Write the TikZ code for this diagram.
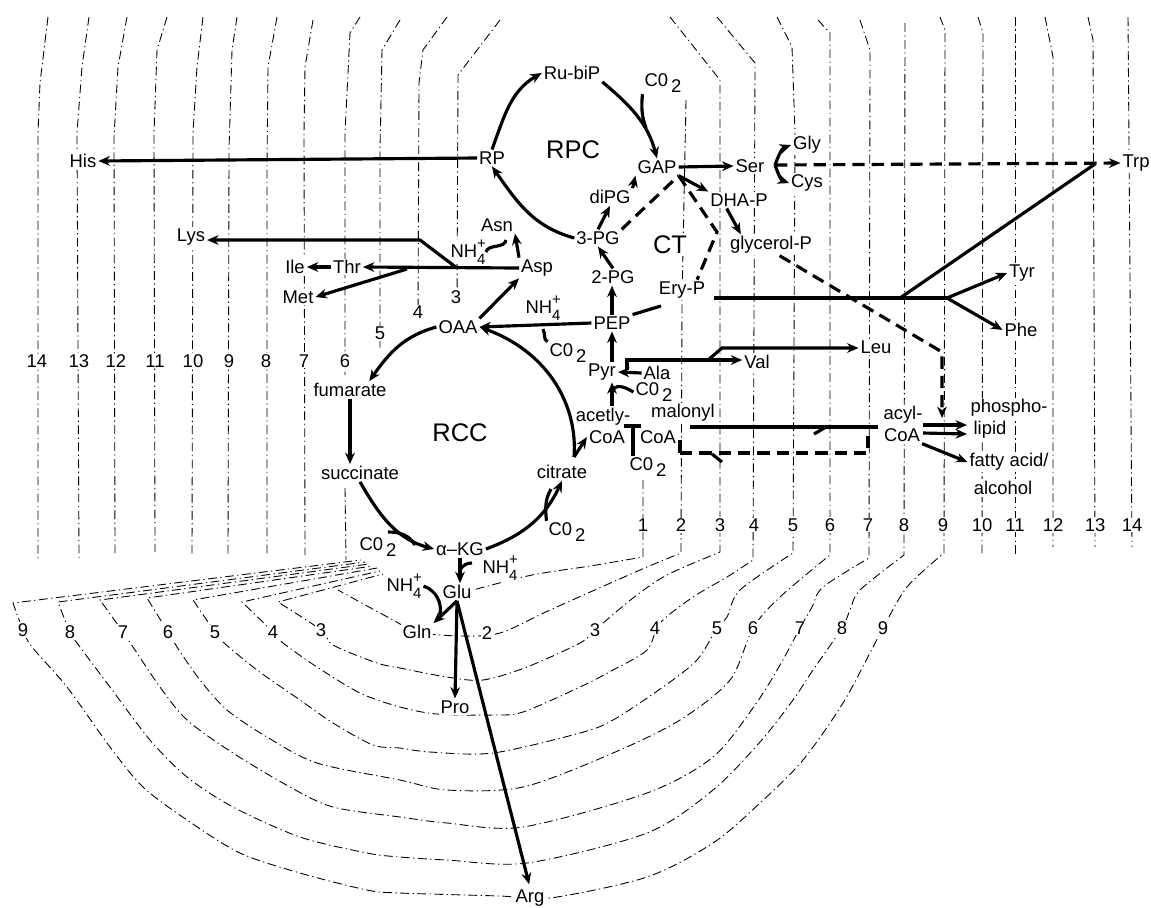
\documentclass[tikz,border=0pt]{standalone}
\usepackage{fontspec}
\setmainfont{Liberation Sans}
\usetikzlibrary{arrows.meta,calc}
\newcommand{\fs}{\fontsize{10.5}{12}\selectfont}
\newcommand{\fsmall}{\fontsize{8.5}{9}\selectfont}
\newcommand{\cotwo}{C0\,\raisebox{-0.55ex}{2}}
\newcommand{\nhf}{NH\makebox[0pt][l]{\raisebox{0.95ex}{\fsmall +}}\raisebox{-0.65ex}{\fsmall 4}}
\begin{document}
\begin{tikzpicture}[x=0.02cm,y=-0.02cm,
  contour/.style={line width=0.5pt, dash pattern=on 5pt off 2pt on 0.7pt off 2pt},
  thk/.style={line width=1.8pt},
  ar/.style={thk, -{Stealth[length=6.5pt,width=5.5pt]}},
  dsh/.style={thk, dash pattern=on 7pt off 4pt},
  t/.style={font=\fs, fill=white, inner sep=1pt},
  num/.style={font=\fs, fill=white, inner sep=0.6pt},
  big/.style={font=\fontsize{14.5}{16}\selectfont, fill=white, inner sep=1pt}]
\path[use as bounding box] (0,0) rectangle (1151,907);
\fill[white] (0,0) rectangle (1151,907);

% ---------------- contour lines: left verticals
\draw[contour] (48,17) -- (40,83) -- (38,133) -- (38,560);
\draw[contour] (89,17) -- (82,67) -- (77,133) -- (79,558);
\draw[contour] (127,17) -- (118,67) -- (114,137) -- (115,555);
\draw[contour] (167,17) -- (157,50) -- (154,133) -- (155,552);
\draw[contour] (203,17) -- (197,67) -- (193,133) -- (192,557);
\draw[contour] (237,17) -- (232,50) -- (229,150) -- (228,555);
\draw[contour] (277,17) -- (268,67) -- (267,167) -- (267,555);
\draw[contour] (313,20) -- (305,67) -- (304,133) -- (305,555);
\draw[contour] (360,17) -- (350,33) -- (345,133) -- (345,375);
\draw[contour] (345,488) -- (346,560);
\draw[contour] (400,20) -- (382,50) -- (380,150) -- (380,348);
\draw[contour] (447,17) -- (423,50) -- (419,83) -- (418,318);
\draw[contour] (500,20) -- (458,75) -- (457,300);

% ---------------- contour lines: right side and lower rings
\draw[contour] (643,480) -- (643,557) -- plot[smooth,tension=0.5] coordinates {(643,557)(590,566)(532,575)(473,590)};
\draw[contour] (686,100) -- (682,300) -- (681,553) -- plot[smooth,tension=0.5] coordinates {(681,553)(640,570)(550,610)(500,633)(460,636)(417,632)(393,620)(338,590)};
\draw[contour] (670,17) -- (720,80) -- (720,552) -- plot[smooth,tension=0.5] coordinates {(720,552)(667,575)(633,598)(595,630)(580,643)(527,667)(483,680)(447,677)(400,668)(377,663)(333,645)(321,630)(278,602)} -- (383,574);
\draw[contour] (717,17) -- (755,63) -- (753,560) -- plot[smooth,tension=0.5] coordinates {(753,560)(727,577)(693,597)(660,623)(647,650)(613,670)(580,687)(523,712)(493,715)(437,714)(400,707)(360,693)(317,667)(283,643)(273,632)(242,602)} -- (380,571);
\draw[contour] (777,17) -- (792,47) -- (795,133) -- (793,553) -- plot[smooth,tension=0.5] coordinates {(793,553)(740,590)(727,617)(717,628)(697,660)(663,687)(613,720)(580,733)(493,753)(430,752)(400,748)(373,745)(333,723)(300,700)(257,670)(223,642)(215,632)(193,600)} -- (377,568);
\draw[contour] (818,20) -- (830,33) -- (830,555) -- plot[smooth,tension=0.5] coordinates {(830,555)(780,597)(753,628)(730,680)(680,720)(613,753)(523,787)(447,790)(400,780)(317,763)(267,737)(227,710)(200,680)(177,647)(168,632)(147,598)} -- (373,566);
\draw[contour] (860,20) -- (870,50) -- (869,558) -- plot[smooth,tension=0.5] coordinates {(869,558)(823,587)(812,607)(800,628)(780,665)(755,705)(713,757)(647,793)(523,827)(447,823)(400,817)(333,807)(290,787)(233,753)(187,720)(160,687)(133,647)(123,632)(100,600)} -- (369,564);
\draw[contour] (905,23) -- (904,555) -- plot[smooth,tension=0.5] coordinates {(904,555)(860,590)(850,610)(842,628)(813,670)(793,700)(760,742)(713,790)(647,833)(527,863)(447,860)(400,857)(367,853)(300,837)(233,807)(187,777)(150,740)(110,687)(80,647)(70,632)(58,602)} -- (365,562);
\draw[contour] (940,17) -- (945,30) -- (944,553) -- plot[smooth,tension=0.5] coordinates {(944,553)(907,587)(883,628)(873,647)(843,703)(803,760)(760,803)(713,843)(647,877)(550,898)(500,896)(400,893)(367,890)(300,873)(240,853)(187,820)(143,787)(110,747)(67,687)(32,647)(23,630)(13,603)} -- (361,560);
\draw[contour] (978,17) -- (983,33) -- (982,555);
\draw[contour] (1015,17) -- (1015,555);
\draw[contour] (1045,17) -- (1053,57) -- (1053,547);
\draw[contour] (1088,17) -- (1093,40) -- (1095,547);
\draw[contour] (1128,17) -- (1132,547);

% ---------------- contour numbers
\foreach \n/\x in {14/37,13/79,12/116,11/155,10/193,9/229,8/266,7/304,6/345}
  \node[num] (ln\n) at (\x,361) {\n};
\node[num] (ln5) at (380,333) {5};
\node[num] (ln4) at (418,312) {4};
\node[num] (ln3) at (456,297) {3};
\foreach \n/\x in {1/643,2/681,3/720,4/754,5/793,6/830,7/868,8/904,9/943,10/982,11/1015,12/1053,13/1095,14/1132}
  \node[num] (rn\n) at (\x,525) {\n};
\foreach \n/\x/\y in {2/487/633,3/595/630,4/655/628,5/717/628,6/753/628,7/800/628,8/842/628,9/883/628}
  \node[num] (br\n) at (\x,\y) {\n};
\foreach \n/\x/\y in {9/23/630,8/70/632,7/123/632,6/168/632,5/215/632,4/273/632,3/321/630}
  \node[num] (bl\n) at (\x,\y) {\n};

% ---------------- metabolite nodes
\node[t] (his) at (83,161) {His};
\node[t] (rp) at (492,158) {RP};
\node[t] (rubip) at (572,73) {Ru-biP};
\node[t] (co2a) at (663,83) {\cotwo};
\node[big] (rpc) at (573,150) {RPC};
\node[t] (gap) at (657,167) {GAP};
\node[t] (ser) at (750,166) {Ser};
\node[t] (gly) at (807,145) {Gly};
\node[t] (cys) at (807,183) {Cys};
\node[t] (trp) at (1136,163) {Trp};
\node[t] (dhap) at (739,200) {DHA-P};
\node[t] (dipg) at (610,197) {diPG};
\node[t] (glyp) at (771,245) {glycerol-P};
\node[t] (pg3) at (598,238) {3-PG};
\node[big] (ct) at (670,245) {CT};
\node[t] (asn) at (497,225) {Asn};
\node[t, inner sep=0pt] (nh1) at (468,252) {\nhf};
\node[t] (lys) at (191,237) {Lys};
\node[t] (ile) at (295,267) {Ile};
\node[t] (thr) at (347,267) {Thr};
\node[t] (met) at (298,297) {Met};
\node[t] (asp) at (537,268) {Asp};
\node[t] (pg2) at (613,277) {2-PG};
\node[t] (eryp) at (682,290) {Ery-P};
\node[t] (tyr) at (1022,273) {Tyr};
\node[t] (phe) at (1021,330) {Phe};
\node[t] (nh2) at (543,308) {\nhf};
\node[t] (pep) at (612,323) {PEP};
\node[t] (oaa) at (458,327) {OAA};
\node[t] (co2b) at (568,353) {\cotwo};
\node[t] (pyr) at (602,372) {Pyr};
\node[t] (ala) at (657,373) {Ala};
\node[t] (val) at (757,362) {Val};
\node[t] (leu) at (876,347) {Leu};
\node[t] (co2c) at (654,392) {\cotwo};
\node[t] (fum) at (350,390) {fumarate};
\node[big] (rcc) at (460,433) {RCC};
\node[t] (acet) at (603,417) {acetly-};
\node[t] (acoa) at (607,437) {CoA};
\node[t] (mal) at (683,413) {malonyl};
\node[t] (mcoa) at (658,437) {CoA};
\node[t] (co2d) at (648,467) {\cotwo};
\node[t] (acyl) at (903,415) {acyl-};
\node[t] (ycoa) at (902,435) {CoA};
\node[t] (phos) at (1009,408) {phospho-};
\node[t] (lip) at (990,430) {lipid};
\node[t] (fat) at (1009,462) {fatty acid/};
\node[t] (alc) at (1003,488) {alcohol};
\node[t] (suc) at (360,473) {succinate};
\node[t] (cit) at (562,472) {citrate};
\node[t] (co2e) at (567,532) {\cotwo};
\node[t] (co2f) at (378,547) {\cotwo};
\node[t] (akg) at (460,549) {α–KG};
\node[t] (nh3) at (500,568) {\nhf};
\node[t] (nh4) at (404,586) {\nhf};
\node[t] (glu) at (457,592) {Glu};
\node[t] (gln) at (417,632) {Gln};
\node[t] (pro) at (455,707) {Pro};
\node[t] (arg) at (530,898) {Arg};

% ---------------- helper coordinates
\coordinate (j1) at (646,128);
\coordinate (j3) at (543,329);
\coordinate (j2) at (613,390);
\coordinate (j4) at (506,240);
\coordinate (pvb) at (627,370);
\coordinate (pv) at (627,360);
\coordinate (lb1) at (708,360);
\coordinate (lb2) at (722,348);
\coordinate (lk1) at (457,268);
\coordinate (lk2) at (420,240);
\coordinate (mk1) at (407,269);
\coordinate (sb) at (775,165);
\coordinate (tj) at (1095,164);
\coordinate (e0) at (714,298);
\coordinate (eb1) at (900,298);
\coordinate (eb2) at (947,298);
\coordinate (pe) at (661,306);
\coordinate (ej) at (717,232);
\coordinate (gk1) at (942,352);
\coordinate (gk2) at (942,418);
\coordinate (cv) at (574,457);
\coordinate (ce) at (551,489);
\coordinate (cf1) at (388,532);
\coordinate (cf2) at (415,545);
\coordinate (gh1) at (460,570);
\coordinate (gh2) at (472,563);
\coordinate (gq2) at (440,615);
\coordinate (tb1) at (624,426);
\coordinate (tb2) at (641,426);
\coordinate (tb3) at (633,426);
\coordinate (m1) at (690,427);
\coordinate (m2) at (878,427);
\coordinate (hb1) at (814,434);
\coordinate (hb2) at (826,427);
\coordinate (d1) at (680,440);
\coordinate (d2) at (680,453);
\coordinate (d3) at (868,453);
\coordinate (d4) at (868,436);
\coordinate (db1) at (712,454);
\coordinate (db2) at (722,462);
\coordinate (pa1) at (923,425);
\coordinate (pa2) at (967,425);
\coordinate (pb1) at (923,433);
\coordinate (pb2) at (967,434);

% ---------------- RPC cycle
\draw[ar] (rp.west) -- (his.east);
\draw[ar] (rp.north) to[out=70,in=210] (rubip.west);
\draw[ar] (rubip.south east) to[out=-40,in=105] (gap.north);
\draw[thk] (co2a.south west) to[out=-95,in=110] (j1);
\draw[ar] (pg3.west) to[out=165,in=-55] (rp.south);
\draw[ar] (pg3.north) -- (dipg.south);
\draw[ar] (dipg.north east) -- (gap.south west);
\draw[ar] (pg2.north) -- (pg3.south);
\draw[ar] (pep.north) -- (pep.north |- pg2.south);
\draw[ar] (pyr.north -| pep.south) -- (pep.south);
\draw[ar] (acet.north -| pep.south) -- (pyr.south -| pep.south);
\draw[thk] (co2c.west) to[out=150,in=60] (j2);
\draw[ar] (ala.west) -- (pyr.east);
\draw[ar] (pvb) -- (pv) -- (pv -| val.west);
\draw[ar] (lb1) -- (lb2) -- (lb2 -| leu.west);
\draw[ar] (pep.west) -- (oaa.east);
\draw[thk] (j3) to[out=-60,in=150] (co2b.north west);
\draw[ar] (oaa.north east) -- (asp.south west);
\draw[ar] (asp.north west) -- (asn.south east);
\draw[thk] (nh1.east) to[out=70,in=-100] (j4);
\draw[ar] (asp.west) -- (thr.east);
\draw[ar] (lk1) -- (lk2) -- (lk2 -| lys.east);
\draw[ar] (mk1) -- (met.east);
\draw[ar] (thr.west) -- (ile.east);

% ---------------- GAP branches
\draw[ar] (gap.east) -- (ser.west);
\draw[ar] (gap.south east) -- (dhap.north west);
\draw[ar] ($(dhap.south west)!0.3!(dhap.south east)$) -- ($(glyp.north west)!0.15!(glyp.north east)$);
\draw[ar] (sb) to[out=70,in=200] (gly.west);
\draw[ar] (sb) to[out=-70,in=160] (cys.west);
\draw[dsh,-{Stealth[length=6.5pt,width=5.5pt]}] (sb) -- (trp.west);
\draw[thk] (e0) -- (eb2);
\draw[thk] (eb1) -- (tj);
\draw[ar] (eb2) -- (tyr.west);
\draw[ar] (eb2) -- (phe.west);
\draw[thk] (pep.north east) -- (pe);
\draw[dsh] (gap.south east) -- (ej) -- ($(eryp.north)!0.6!(eryp.north east)$);
\draw[dsh] (pg3.north east) -- (gap.south east);
\draw[dsh,-{Stealth[length=6.5pt,width=5.5pt]}] ($(glyp.south)!0.2!(glyp.south east)$) -- (gk1) -- (gk2);

% ---------------- RCC cycle
\draw[ar] (oaa.west) to[out=195,in=55] ($(fum.north)!0.5!(fum.north east)$);
\draw[ar] (fum.south) -- (fum.south |- suc.north);
\draw[ar] (suc.south) to[out=-60,in=165] (akg.west);
\draw[thk] (cf1) to[out=0,in=120] (cf2);
\draw[ar] (akg.east) to[out=20,in=-115] (cit.south);
\draw[thk] (co2e.north west) to[out=95,in=-120] (ce);
\draw[ar] (cv) .. controls (578,405) and (548,352) .. (oaa.east);
\draw[ar] (cv) -- (acoa.west);

% ---------------- Glu family
\draw[ar] (akg.south) -- (akg.south |- glu.north);
\draw[thk] (gh1) to[out=60,in=180] (gh2);
\draw[ar] (glu.south) -- (gln.north east);
\draw[thk] (nh4.east) to[out=-20,in=80] (gq2);
\draw[ar] (glu.south) -- (pro.north);
\draw[ar,shorten >=2pt] (glu.south) -- (arg.north);

% ---------------- fatty acid synthesis
\draw[thk] (tb1) -- (tb2);
\draw[thk] (co2d.north -| tb3) -- (tb3);
\draw[thk] (m1) -- (m2);
\draw[thk] (hb1) -- (hb2);
\draw[thk] (d1) -- (d2);
\draw[dsh] (d2) -- (d3) -- (d4);
\draw[thk] (db1) -- (db2);
\draw[ar] (pa1) -- (pa2);
\draw[ar] (pb1) -- (pb2);
\draw[ar] (ycoa.south east) -- (fat.west);
\end{tikzpicture}
\end{document}
